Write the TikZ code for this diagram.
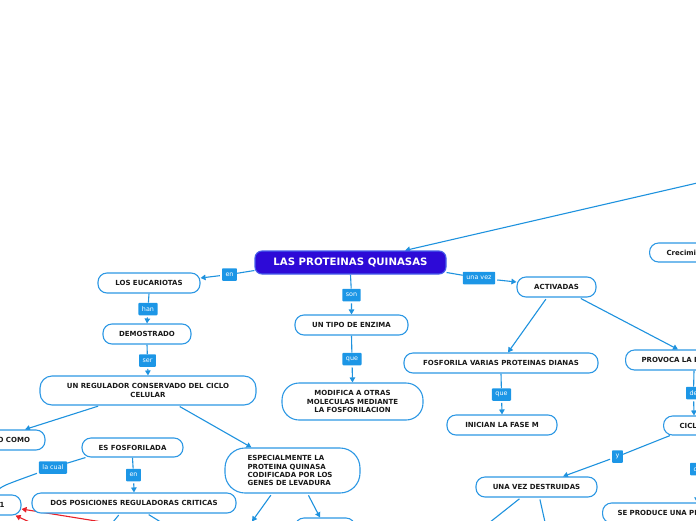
\documentclass[tikz,border=0pt]{standalone}
\usepackage{fontspec}
\setmainfont{DejaVu Sans}
\usetikzlibrary{arrows.meta,backgrounds}
\definecolor{nodeb}{RGB}{45,152,228}
\definecolor{connc}{RGB}{30,146,222}
\definecolor{lblf}{RGB}{28,150,230}
\definecolor{titf}{RGB}{45,10,215}
\definecolor{titb}{RGB}{70,95,235}
\definecolor{redc}{RGB}{232,32,40}
\begin{document}
\begin{tikzpicture}[x=1pt,y=-1pt,
 box/.style={draw=nodeb, line width=1.1pt, fill=white, rounded corners=9pt,
   font=\bfseries\fontsize{7}{8.4}\selectfont, text=black!90, inner sep=0pt, align=center},
 lbl/.style={fill=lblf, text=white, font=\fontsize{6.4}{7}\selectfont, inner xsep=3.5pt,
   inner ysep=0pt, minimum height=12.5pt, rounded corners=0.8pt},
 cn/.style={draw=connc, line width=1.1pt, shorten <=2pt},
 rcn/.style={draw=redc, line width=1.1pt},
 arr/.style={-{Triangle[length=5pt,width=5.5pt]}}
]
\useasboundingbox (0,0) rectangle (696,520);
% concepts
\node[box, minimum width=191pt, minimum height=23pt, fill=titf, draw=titb, text=white,
  font=\bfseries\fontsize{10.2}{12}\selectfont, rounded corners=7pt] (T) at (350.5,262.5) {LAS PROTEINAS QUINASAS};
\node[box, minimum width=102pt, minimum height=20pt] (euc) at (149,283) {LOS EUCARIOTAS};
\node[box, minimum width=88pt, minimum height=20pt] (dem) at (147,334) {DEMOSTRADO};
\node[box, minimum width=216pt, minimum height=29pt, rounded corners=12pt,
  font=\bfseries\fontsize{7}{9.3}\selectfont] (reg) at (148,390.5) {UN REGULADOR CONSERVADO DEL CICLO\\CELULAR};
\node[box, minimum height=20pt, text width=70pt, inner xsep=15pt, align=right] (ocomo) at (-5,440) {O COMO};
\node[box, minimum height=20pt, text width=45pt, inner xsep=16.5pt, align=right] (one) at (-18,505) {1};
\node[box, minimum width=101pt, minimum height=19pt] (esf) at (132.5,447.5) {ES FOSFORILADA};
\node[box, minimum width=204pt, minimum height=20pt] (dos) at (134,503) {DOS POSICIONES REGULADORAS CRITICAS};
\node[box, minimum width=135pt, minimum height=45pt, rounded corners=20pt, text width=90pt, align=left,
  font=\bfseries\fontsize{7}{8.1}\selectfont] (esp) at (292.5,470.5) {ESPECIALMENTE LA\\PROTEINA QUINASA\\CODIFICADA POR LOS\\GENES DE LEVADURA};
\node[box, minimum width=113pt, minimum height=20pt] (tipo) at (351.5,325) {UN TIPO DE ENZIMA};
\node[box, minimum width=141pt, minimum height=37pt, rounded corners=17pt,
  font=\bfseries\fontsize{7}{8.5}\selectfont] (mod) at (352.5,401.5) {MODIFICA A OTRAS\\MOLECULAS MEDIANTE\\LA FOSFORILACION};
\node[box, minimum width=79pt, minimum height=20pt] (act) at (556.5,287) {ACTIVADAS};
\node[box, minimum width=194pt, minimum height=20pt] (fos) at (501,363) {FOSFORILA VARIAS PROTEINAS DIANAS};
\node[box, minimum width=110pt, minimum height=20pt] (ini) at (502,425) {INICIAN LA FASE M};
\node[box, minimum width=121pt, minimum height=20pt] (uvd) at (536.5,487) {UNA VEZ DESTRUIDAS};
\node[box, anchor=west, minimum height=19pt, text width=100pt, inner xsep=17pt, align=left] (crec) at (649,252.5) {Crecimiento};
\node[box, anchor=west, minimum height=20pt, text width=130pt, inner xsep=16pt, align=left] (prov) at (625,360) {PROVOCA LA DIVISION};
\node[box, anchor=west, minimum height=19pt, text width=100pt, inner xsep=16pt, align=left] (cicl) at (663,425.5) {CICLINAS};
\node[box, anchor=west, minimum height=20pt, text width=150pt, inner xsep=15pt, align=left] (sep) at (602,513) {SE PRODUCE UNA PERDIDA};
\node[box, minimum width=80pt, minimum height=20pt] (b1) at (250,532) {};
\node[box, minimum width=60pt, minimum height=20pt] (b2) at (325,528) {};
% free ends
\coordinate (tr) at (760,168.5);
\coordinate (d1) at (98,540);
\coordinate (d2) at (190,540);
\coordinate (u1) at (467.5,540);
\coordinate (u2) at (549,540);
\coordinate (r1) at (150,529.7);
\coordinate (r2) at (63,537.5);
% labels
\node[lbl] (l1) at (229.5,274.5) {en};
\node[lbl] (l2) at (148,309) {han};
\node[lbl] (l3) at (147.5,360.5) {ser};
\node[lbl] (l4) at (351.5,295) {son};
\node[lbl] (l5) at (352,359) {que};
\node[lbl] (l6) at (479,278) {una vez};
\node[lbl] (l7) at (501.5,394.5) {que};
\node[lbl] (l8) at (693.5,393) {de};
\node[lbl] (l9) at (617.5,456.5) {y};
\node[lbl] (l10) at (697.5,469) {de};
\node[lbl] (l11) at (53,467.5) {la cual};
\node[lbl] (l12) at (133.5,475) {en};
% connectors
\begin{scope}[on background layer]
\draw[cn,arr] ([yshift=-8pt]T.west) -- (l1) -- ([yshift=5pt]euc.east);
\draw[cn,arr] (euc.south) -- (l2) -- (dem.north);
\draw[cn,arr] (dem.south) -- (l3) -- (reg.north);
\draw[cn,arr] ([xshift=-48pt]reg.south) -- ([xshift=30pt]ocomo.north);
\draw[cn,arr] ([xshift=30pt]reg.south) -- ([xshift=-41pt]esp.north);
\draw[cn,arr] ([xshift=4pt]esf.south west) -- (l11) .. controls (2,486) .. ([xshift=12pt]one.north);
\draw[cn,arr] (esf.south) -- (l12) -- (dos.north);
\draw[cn,arr] ([xshift=-14pt]dos.south) -- (d1);
\draw[cn,arr] ([xshift=13pt]dos.south) -- (d2);
\draw[cn,arr] ([xshift=-20.5pt]esp.south) -- ([xshift=2pt]b1.north);
\draw[cn,arr] ([xshift=15pt]esp.south) -- ([xshift=-5pt]b2.north);
\draw[cn,arr] (T.south) -- (l4) -- (tipo.north);
\draw[cn,arr] (tipo.south) -- (l5) -- (mod.north);
\draw[cn,arr] ([yshift=-10pt]T.east) -- (l6) -- ([yshift=5pt]act.west);
\draw[cn,arr] ([xshift=-9.5pt]act.south) -- ([xshift=7pt]fos.north);
\draw[cn,arr] ([xshift=22.5pt]act.south) -- ([xshift=53pt]prov.north west);
\draw[cn,arr] (fos.south) -- (l7) -- (ini.north);
\draw[cn,arr] (tr) -- ([xshift=54.5pt]T.north);
\draw[cn,arr] ([xshift=69pt]prov.south west) -- (l8) -- ([xshift=31pt]cicl.north west);
\draw[cn,arr] ([xshift=7pt]cicl.south west) -- (l9) -- ([xshift=26.5pt]uvd.north);
\draw[cn,arr] ([xshift=34pt]cicl.south west) -- (l10) -- ([xshift=95pt]sep.north west);
\draw[cn,arr] ([xshift=-15.5pt]uvd.south) -- (u1);
\draw[cn,arr] ([xshift=3pt]uvd.south) -- (u2);
\draw[rcn,arr] (r1) -- ([yshift=-4pt]one.east);
\draw[rcn,arr] (r2) -- ([xshift=-6pt]one.south east);
\end{scope}
\end{tikzpicture}
\end{document}
